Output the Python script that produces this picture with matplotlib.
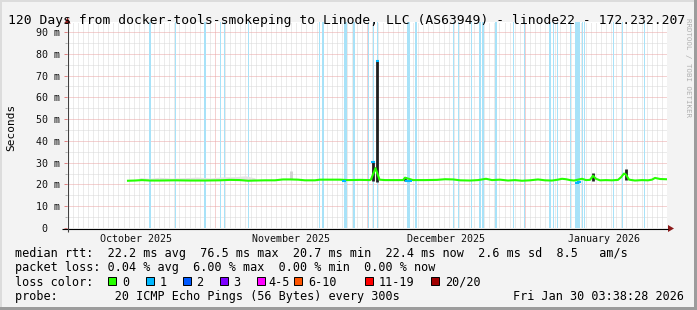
import matplotlib
matplotlib.use("Agg")
import matplotlib.pyplot as plt
from matplotlib.patches import Rectangle, Polygon
from matplotlib.ticker import FixedLocator
import numpy as np

plt.rcParams["font.family"] = ["DejaVu Sans Mono"]

W, H = 697, 310

# time axis: days since 2025-10-01 00:00
t_first, t_last = 1.87, 119.98
month_start = [31, 61, 92]
month_mid = [15.5, 46.0, 76.5, 107.5]
month_names = ["October 2025", "November 2025", "December 2025", "January 2026"]

# median rtt (ms) and loss class per sample (0 = 0/20, 1 = 1/20)
median_day = [13.88, 15.26, 16.63, 18.21, 20.18, 23.13, 26.08, 29.04, 31.99, 33.96,
              35.93, 37.50, 38.88, 40.85, 42.81, 44.39, 45.77, 47.34, 48.72, 50.69,
              51.67, 53.64, 55.61, 56.40, 57.18, 59.55, 61.52, 61.71, 62.11, 62.60,
              62.95, 63.39, 64.47, 66.44, 68.01, 68.41, 68.80, 69.39, 69.98, 72.34,
              74.70, 76.28, 77.85, 79.23, 81.20, 82.78, 84.35, 85.53, 87.11, 88.68,
              90.06, 91.44, 93.01, 94.59, 95.96, 97.34, 98.52, 99.31, 100.10, 100.89,
              101.67, 102.26, 102.66, 103.25, 104.04, 104.82, 105.41, 106.00, 106.79, 107.97,
              109.15, 110.33, 110.93, 111.52, 111.91, 112.50, 113.68, 115.06, 116.24, 117.03,
              117.62, 118.60, 119.78]
median_ms = [21.7, 21.8, 22.0, 21.8, 21.8, 21.9, 21.8, 21.8, 21.9, 22.1,
             22.0, 21.7, 21.8, 21.9, 21.9, 22.3, 22.3, 22.2, 21.9, 21.9,
             22.2, 22.2, 22.2, 21.4, 22.0, 22.1, 22.0, 22.3, 30.4, 27.5,
             76.5, 22.2, 22.0, 22.0, 22.0, 23.1, 21.6, 21.6, 22.0, 22.0,
             22.1, 22.4, 22.3, 21.9, 21.8, 22.0, 22.6, 22.0, 22.2, 21.8,
             22.0, 21.7, 21.9, 22.3, 21.9, 21.8, 22.2, 22.6, 22.4, 22.0,
             21.8, 20.8, 21.2, 22.6, 22.0, 22.1, 24.0, 22.6, 21.9, 22.0,
             21.9, 22.1, 23.3, 25.0, 24.5, 22.2, 21.8, 22.0, 21.9, 22.2,
             23.0, 22.5, 22.4]
median_loss = [0, 0, 0, 0, 0, 0, 0, 0, 0, 0,
               0, 0, 0, 0, 0, 0, 0, 0, 0, 0,
               0, 0, 0, 1, 0, 0, 0, 0, 1, 0,
               1, 0, 0, 0, 0, 0, 1, 1, 0, 0,
               0, 0, 0, 0, 0, 0, 0, 0, 0, 0,
               0, 0, 0, 0, 0, 0, 0, 0, 0, 0,
               0, 1, 1, 0, 0, 0, 0, 0, 0, 0,
               0, 0, 0, 0, 0, 0, 0, 0, 0, 0,
               0, 0, 0]

# packet loss periods (centre day, length in days)
loss_day = [18.21, 23.23, 29.13, 31.99, 32.83, 37.56, 51.48, 52.17, 56.69, 58.23,
            58.56, 61.18, 62.20, 62.99, 69.09, 70.57, 77.91, 78.90, 81.54, 83.17,
            83.82, 86.32, 89.72, 91.89, 96.95, 97.60, 98.46, 101.08, 102.42, 103.31,
            103.70, 109.41, 111.18, 115.51]
loss_len = [0.2, 0.2, 0.4, 0.2, 0.2, 0.2, 0.2, 0.4, 0.4, 0.2,
            0.2, 0.2, 0.2, 0.2, 0.6, 0.2, 0.2, 0.2, 0.2, 0.2,
            0.4, 0.2, 0.2, 0.2, 0.2, 0.2, 0.2, 0.2, 1.0, 0.2,
            0.2, 0.2, 0.2, 0.2]

# smoke: spread of the single pings
smoke_day = [16.2, 18.0, 20.0, 22.5, 25.0, 27.5, 30.0, 32.5, 35.0, 37.0, 38.9]
smoke_lo = [22.0, 22.0, 22.0, 22.0, 22.0, 22.0, 22.0, 22.0, 22.0, 22.0, 22.0]
smoke_hi = [23.2, 22.8, 23.3, 22.9, 23.1, 23.4, 23.0, 23.5, 23.6, 24.0, 23.0]
spike_day = [45.96, 62.11, 62.95, 68.41, 105.41, 111.9]
spike_lo = [22.3, 21.5, 21.0, 21.5, 21.8, 22.0]
spike_hi = [26.0, 30.5, 76.8, 23.3, 25.1, 27.1]
spike_col = ["#cfcfcf", "#202020", "#202020", "#303030", "#202020", "#202020"]

loss_names = ["0", "1", "2", "3", "4-5", "6-10", "11-19", "20/20"]
loss_colors = ["#26ff00", "#00b8ff", "#0059ff", "#7e00ff", "#ff00ff", "#ff5500", "#ff0000", "#a00000"]

y_top = 94.6

fig = plt.figure(figsize=(W / 100, H / 100), dpi=100, facecolor="#f3f3f3")
ax = fig.add_axes([67 / W, (H - 228) / H, 600 / W, 206 / H], facecolor="white")
ax.set_xlim(t_first, t_last)
ax.set_ylim(0, y_top)
for s in ax.spines.values():
    s.set_visible(False)

# grid
dot = (0, (1, 1))
days = [d for d in range(2, 120) if d not in month_start]
ax.vlines(days, 0, y_top, colors="#d8d8d8", linestyles=dot, lw=0.72, zorder=0.5)
ax.hlines(np.arange(5, 90, 10), t_first, t_last, colors="#d8d8d8", linestyles=dot, lw=0.72, zorder=0.5)
ax.vlines(month_start, 0, y_top, colors="#eaa5a5", linestyles=dot, lw=0.72, zorder=0.6)
ax.hlines(np.arange(10, 91, 10), t_first, t_last, colors="#eaa5a5", linestyles=dot, lw=0.72, zorder=0.6)

# loss bands
for d, l in zip(loss_day, loss_len):
    ax.axvspan(d - l / 2, d + l / 2, color="#a8e2f8", lw=0, zorder=1)

# smoke
ax.fill_between(smoke_day, smoke_lo, smoke_hi, color="#e3e3e3", lw=0, zorder=2)
ax.vlines(spike_day, spike_lo, spike_hi, colors=spike_col, lw=2.0, zorder=3)

# median line
md = np.array(median_day)
mm = np.array(median_ms)
ml = np.array(median_loss)
ax.plot(md[ml == 0], mm[ml == 0], color=loss_colors[0], lw=1.5, zorder=4)
ax.hlines(mm[ml == 1], md[ml == 1] - 0.3, md[ml == 1] + 0.3, colors=loss_colors[1], lw=1.5, zorder=5)

# ticks
ax.set_yticks(np.arange(0, 91, 10))
ax.set_yticklabels(["0  "] + ["%d m" % v for v in range(10, 91, 10)])
ax.yaxis.set_minor_locator(FixedLocator(np.arange(5, 90, 10)))
ax.tick_params(axis="y", which="major", length=2.2, width=0.7, color="#e08080", pad=3,
               labelsize=7.2, labelcolor="#111111")
ax.tick_params(axis="y", which="minor", length=1.5, width=0.7, color="#b0b0b0")
ax.set_xticks(month_mid)
ax.set_xticklabels(month_names)
ax.tick_params(axis="x", which="major", length=0, pad=4.2, labelsize=7.2, labelcolor="#111111")

# overlay in pixel coordinates
ov = fig.add_axes([0, 0, 1, 1], facecolor="none", zorder=10)
ov.set_xlim(0, W)
ov.set_ylim(H, 0)
ov.axis("off")

# frame shading
ov.add_patch(Rectangle((0, 0), W, 2, color="#dcdcdc", lw=0))
ov.add_patch(Rectangle((0, 0), 2, H, color="#dcdcdc", lw=0))
ov.add_patch(Rectangle((W - 3, 0), 3, H, color="#9c9c9c", lw=0))
ov.add_patch(Rectangle((0, H - 3), W, 3, color="#9c9c9c", lw=0))

# axes lines with arrows
ov.plot([62, 668], [228.5, 228.5], color="black", lw=0.8, solid_capstyle="butt")
ov.plot([67.5, 67.5], [232, 23], color="#404040", lw=0.8, solid_capstyle="butt")
ov.add_patch(Polygon([[668, 225], [674, 228.5], [668, 232]], closed=True, color="#8b1a1a", lw=0))
ov.add_patch(Polygon([[64.5, 23.5], [67.5, 17.5], [70.5, 23.5]], closed=True, color="#8b1a1a", lw=0))

ov.text(8, 24, "120 Days from docker-tools-smokeping to Linode, LLC (AS63949) - linode22 - 172.232.207",
        fontsize=9.4, va="baseline", ha="left", color="black")
ov.text(11, 127, "Seconds", fontsize=8.0, rotation=90, va="center", ha="center", color="black")
ov.text(688, 18, "RRDTOOL / TOBI OETIKER", fontsize=5.3, rotation=270, va="top", ha="center", color="#b0b0b0")

lines = [
    "median rtt:  22.2 ms avg  76.5 ms max  20.7 ms min  22.4 ms now  2.6 ms sd  8.5   am/s",
    "packet loss: 0.04 % avg  6.00 % max  0.00 % min  0.00 % now",
]
ov.text(15, 257, lines[0], fontsize=8.5, va="baseline", ha="left")
ov.text(15, 271.3, lines[1], fontsize=8.5, va="baseline", ha="left")
ov.text(15, 285.6, "loss color:", fontsize=8.5, va="baseline", ha="left")
ov.text(15, 299.9, "probe:        20 ICMP Echo Pings (56 Bytes) every 300s", fontsize=8.5,
        va="baseline", ha="left")
ov.text(513, 299.9, "Fri Jan 30 03:38:28 2026", fontsize=8.5, va="baseline", ha="left")

swatch_x = [108, 145.5, 182.5, 219.5, 256.5, 294, 365, 431]
text_gap = [14, 14, 14, 14, 12, 14, 14, 14]
for sx, gap, name, col in zip(swatch_x, text_gap, loss_names, loss_colors):
    ov.add_patch(Rectangle((sx, 277), 8, 8, facecolor=col, edgecolor="black", lw=0.7))
    ov.text(sx + gap, 285.6, name, fontsize=8.5, va="baseline", ha="left")

fig.savefig("out.png", dpi=100, facecolor=fig.get_facecolor())
